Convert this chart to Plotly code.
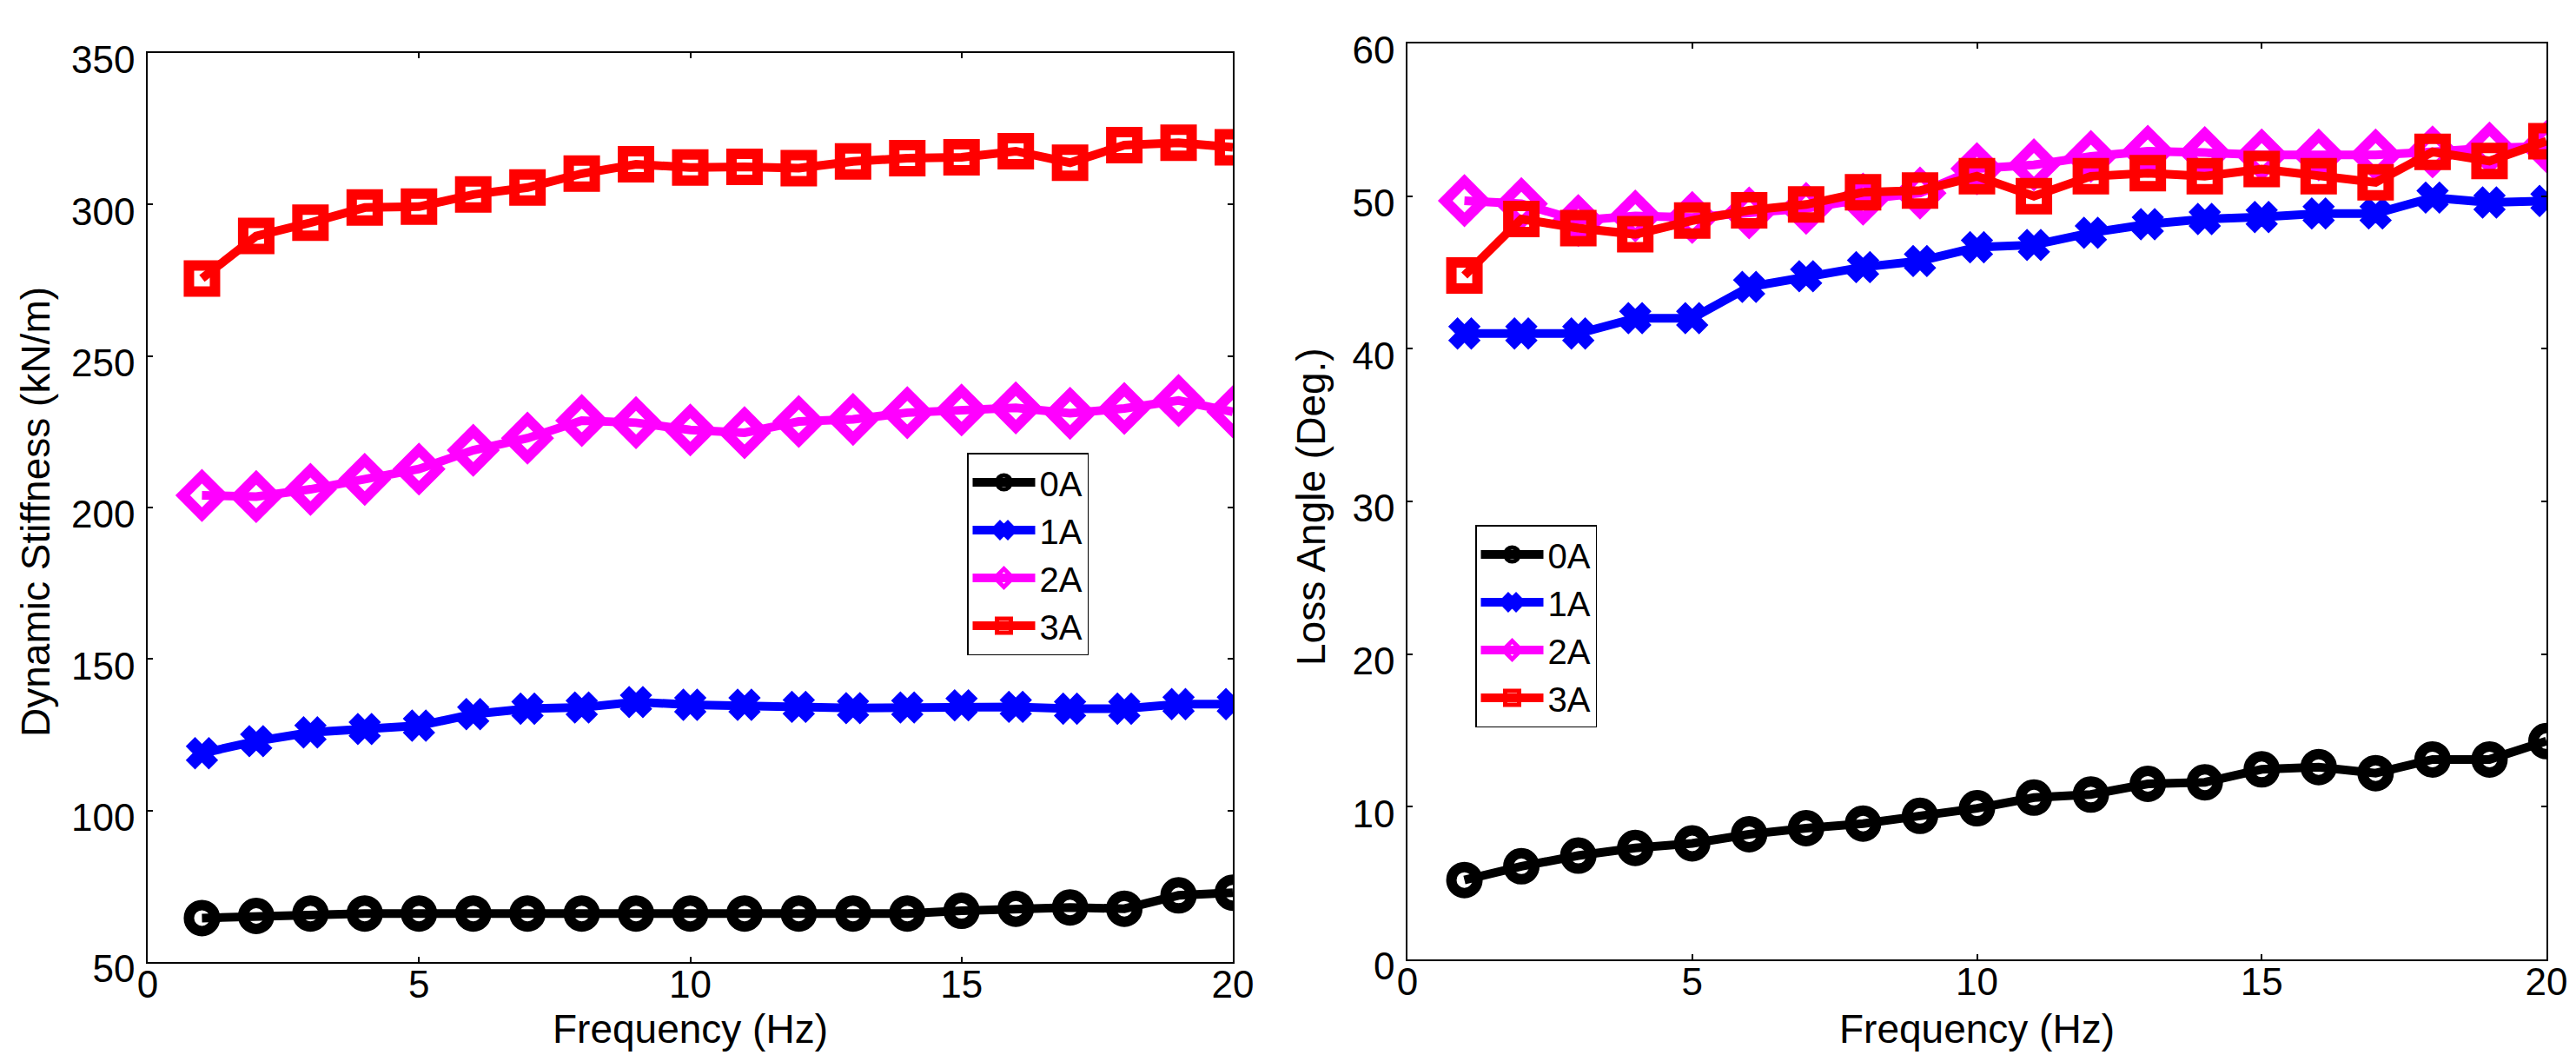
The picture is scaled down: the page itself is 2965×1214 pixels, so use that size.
import plotly.graph_objects as go
from plotly.subplots import make_subplots

freq = [1, 2, 3, 4, 5, 6, 7, 8, 9, 10, 11, 12, 13, 14, 15, 16, 17, 18, 19, 20]
names = ["0A", "1A", "2A", "3A"]

# dynamic stiffness (kN/m)
stiff_0a = [64.5, 65.2, 66, 66, 66, 66, 66, 66, 66, 66, 66, 66, 66, 66, 66.9, 67.6, 68, 67.6, 72, 72.9]
stiff_1a = [118.9, 122.9, 125.8, 126.9, 128, 131.8, 133.6, 134, 135.8, 134.9, 134.9, 134.2, 133.8, 134, 134.7, 134.2, 133.6, 133.6, 135.1, 135.1]
stiff_2a = [204, 203.6, 206, 209.3, 212.7, 218.9, 222.9, 228.7, 228, 225.6, 224.7, 228.4, 229.1, 231.3, 232.2, 232.9, 231.1, 232.7, 235.3, 231.6]
stiff_3a = [275.6, 289.6, 294, 299, 299.3, 303.3, 305.6, 310.2, 313.3, 312.2, 312.4, 312, 314.2, 315.3, 315.6, 317.6, 313.8, 319.6, 320.4, 318.9]

# loss angle (deg)
loss_0a = [5.2, 6.1, 6.8, 7.3, 7.6, 8.2, 8.6, 8.9, 9.4, 9.9, 10.6, 10.8, 11.5, 11.6, 12.45, 12.6, 12.2, 13.1, 13.1, 14.3]
loss_1a = [41.0, 41.0, 41.0, 42.0, 42.0, 44.05, 44.75, 45.35, 45.75, 46.65, 46.8, 47.6, 48.16, 48.5, 48.63, 48.86, 48.86, 49.9, 49.58, 49.68]
loss_2a = [49.7, 49.5, 48.4, 48.7, 48.6, 48.9, 49.2, 49.8, 50.2, 51.8, 52.05, 52.6, 52.94, 52.85, 52.7, 52.7, 52.7, 52.9, 53.15, 53.25]
loss_3a = [44.8, 48.5, 47.9, 47.5, 48.4, 49.07, 49.45, 50.25, 50.36, 51.3, 50.0, 51.3, 51.5, 51.3, 51.77, 51.3, 50.9, 52.9, 52.3, 53.6]

colors = ["#000000", "#0000ff", "#ff00ff", "#ff0000"]
symbols = ["circle-open", "x", "diamond-open", "square-open"]
msizes = [30, 28, 34, 30]
mlines = [12, 4, 12, 12]

W, H = 2965, 1214
font = "Liberation Sans, Arial, Helvetica, sans-serif"

fig = make_subplots(rows=1, cols=2)

left_data = [stiff_0a, stiff_1a, stiff_2a, stiff_3a]
right_data = [loss_0a, loss_1a, loss_2a, loss_3a]

for col, data, leg in [(1, left_data, "legend"), (2, right_data, "legend2")]:
    for i in range(4):
        fig.add_trace(go.Scatter(
            x=freq, y=data[i], name=names[i], mode="lines+markers",
            line=dict(color=colors[i], width=10),
            marker=dict(symbol=symbols[i], size=msizes[i], color=colors[i],
                        line=dict(color=colors[i], width=mlines[i])),
            legend=leg), row=1, col=col)

axis_style = dict(
    showgrid=False, zeroline=False, showline=True, linecolor="black", linewidth=1.5,
    mirror="ticks", ticks="inside", ticklen=6, tickwidth=2, tickcolor="black",
    tickfont=dict(family=font, size=44, color="black"), automargin=False,
)

fig.update_xaxes(axis_style)
fig.update_yaxes(axis_style)
fig.update_xaxes(ticklabelstandoff=-14)
fig.update_yaxes(ticklabelstandoff=4, ticklabelshift=8)

fig.update_xaxes(range=[0, 20], tickvals=[0, 5, 10, 15, 20], domain=[162 / W, 1411 / W], row=1, col=1)
fig.update_yaxes(range=[50, 350], tickvals=[50, 100, 150, 200, 250, 300, 350],
                 domain=[1 - 1099 / H, 1 - 53 / H], row=1, col=1)
fig.update_xaxes(range=[0, 20], tickvals=[0, 5, 10, 15, 20], domain=[1612 / W, 2923 / W], row=1, col=2)
fig.update_yaxes(range=[0, 60], tickvals=[0, 10, 20, 30, 40, 50, 60],
                 domain=[1 - 1096 / H, 1 - 42 / H], row=1, col=2)

legend_style = dict(
    bgcolor="white", bordercolor="black", borderwidth=1.5,
    font=dict(family=font, size=40, color="black"),
    itemwidth=72, tracegroupgap=0, xanchor="left", yanchor="top",
)

titles = [
    dict(text="Frequency (Hz)", x=(162 + 1411) / 2 / W, y=1 - 1176 / H, angle=0),
    dict(text="Dynamic Stiffness (kN/m)", x=33 / W, y=1 - 581 / H, angle=-90),
    dict(text="Frequency (Hz)", x=(1612 + 2923) / 2 / W, y=1 - 1176 / H, angle=0),
    dict(text="Loss Angle (Deg.)", x=1501 / W, y=1 - 575 / H, angle=-90),
]
annotations = []
for t in titles:
    annotations.append(dict(
        text=t["text"], x=t["x"], y=t["y"], xref="paper", yref="paper",
        xanchor="center", yanchor="middle", textangle=t["angle"], showarrow=False,
        font=dict(family=font, size=46, color="black")))

fig.update_layout(
    width=W, height=H,
    margin=dict(l=0, r=0, t=0, b=0),
    paper_bgcolor="white", plot_bgcolor="white",
    showlegend=True,
    legend=dict(legend_style, x=1105 / W, y=1 - 513 / H),
    legend2=dict(legend_style, x=1690 / W, y=1 - 596 / H),
    annotations=annotations,
)

fig.write_html("out.html")
